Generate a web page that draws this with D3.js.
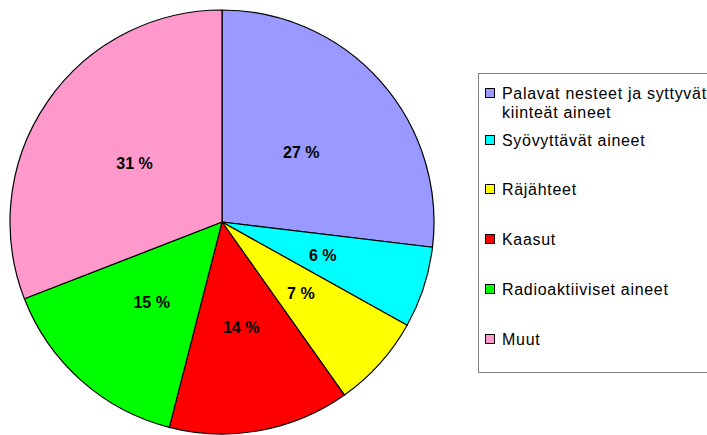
<!DOCTYPE html>
<html>
<head>
<meta charset="utf-8">
<script src="https://cdn.jsdelivr.net/npm/d3@7"></script>
<style>
  body { margin: 0; background: #fff; }
  svg { display: block; font-family: "Liberation Sans", Arial, sans-serif; }
</style>
</head>
<body>
<div id="chart"></div>
<script>
// data
const categories = ["Palavat nesteet ja syttyvät kiinteät aineet", "Syövyttävät aineet", "Räjähteet", "Kaasut", "Radioaktiiviset aineet", "Muut"];
const legendLines = [["Palavat nesteet ja syttyvät", "kiinteät aineet"], ["Syövyttävät aineet"], ["Räjähteet"], ["Kaasut"], ["Radioaktiiviset aineet"], ["Muut"]];
const values = [26.9, 6.2, 7.1, 13.8, 15.1, 30.9];
const labels = ["27 %", "6 %", "7 %", "14 %", "15 %", "31 %"];
const colors = ["#9999FF", "#00FFFF", "#FFFF00", "#FF0000", "#00FF00", "#FF99CC"];

const width = 707, height = 435;
const cx = 222, cy = 222, radius = 212;

const svg = d3.select("#chart").append("svg")
    .attr("width", width)
    .attr("height", height);

const pie = d3.pie().sort(null).value(d => d);
const arcs = pie(values);

const arc = d3.arc().innerRadius(0).outerRadius(radius);
const labelArc = d3.arc().innerRadius(radius * 0.5).outerRadius(radius * 0.5);

const g = svg.append("g").attr("transform", `translate(${cx},${cy})`);

g.selectAll("path")
    .data(arcs)
    .enter().append("path")
    .attr("d", arc)
    .attr("fill", (d, i) => colors[i])
    .attr("stroke", "#000")
    .attr("stroke-width", 1.2)
    .attr("stroke-linejoin", "round");

g.selectAll("text")
    .data(arcs)
    .enter().append("text")
    .attr("transform", d => `translate(${labelArc.centroid(d)})`)
    .attr("text-anchor", "middle")
    .attr("dy", "0.4em")
    .attr("font-size", 16)
    .attr("font-weight", "bold")
    .text((d, i) => labels[i]);

// legend
const legend = svg.append("g");
legend.append("rect")
    .attr("x", 478.5).attr("y", 73.5)
    .attr("width", 240).attr("height", 299)
    .attr("fill", "#fff")
    .attr("stroke", "#808080")
    .attr("stroke-width", 1);

const rowY = [93, 140, 189, 239, 289, 339];

const items = legend.selectAll("g.item")
    .data(categories)
    .enter().append("g")
    .attr("class", "item")
    .attr("transform", (d, i) => `translate(485,${rowY[i]})`);

items.append("rect")
    .attr("x", 0.5).attr("y", -4.5)
    .attr("width", 9).attr("height", 9)
    .attr("fill", (d, i) => colors[i])
    .attr("stroke", "#000")
    .attr("stroke-width", 1);

items.append("text")
    .attr("x", 17)
    .attr("font-size", 16)
    .attr("letter-spacing", 0.7)
    .each(function(d, i) {
        const t = d3.select(this);
        legendLines[i].forEach((line, j) => {
            t.append("tspan")
                .attr("x", 17)
                .attr("y", j * 19)
                .attr("dy", "0.36em")
                .text(line);
        });
    });
</script>
</body>
</html>
